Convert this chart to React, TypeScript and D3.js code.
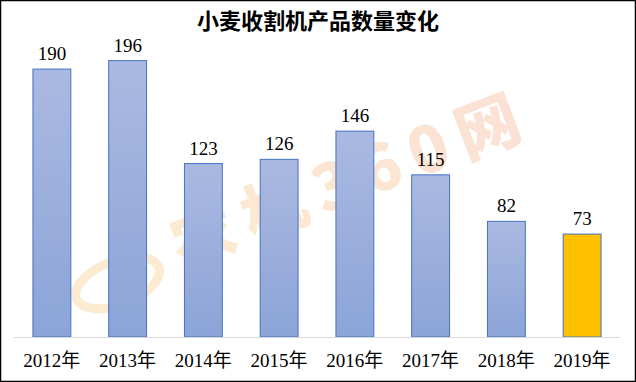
import React from "react";
import * as d3 from "d3";

const categories = ["2012年", "2013年", "2014年", "2015年", "2016年", "2017年", "2018年", "2019年"];
const values = [190, 196, 123, 126, 146, 115, 82, 73];
const highlight = [false, false, false, false, false, false, false, true];
const title = "小麦收割机产品数量变化";
const watermark = "农机360网";

const W = 636;
const H = 382;

export default function App() {
  const x = d3.scaleBand<string>().domain(categories).range([14, 620]).paddingInner(0.5).paddingOuter(0.25);
  const y = d3.scaleLinear().domain([0, 200]).range([337, 55]);
  const serif = "'Liberation Serif', 'Noto Sans CJK SC', serif";
  return (
    <svg width={W} height={H} style={{ position: "fixed", left: 0, top: 0, background: "#fff" }}>
      <defs>
        <linearGradient id="barGrad" x1="0" y1="0" x2="0" y2="1">
          <stop offset="0%" stopColor="#AAB9E1" />
          <stop offset="100%" stopColor="#8CA4D8" />
        </linearGradient>
        <linearGradient id="wmGrad" x1="0" y1="0" x2="1" y2="0">
          <stop offset="0%" stopColor="#F6B24A" />
          <stop offset="100%" stopColor="#F08A5A" />
        </linearGradient>
      </defs>
      <rect x={0.5} y={0.5} width={W - 1} height={H - 1} fill="#fff" stroke="#000" strokeWidth={1.5} />
      <text x={318} y={29} textAnchor="middle" fontFamily="'Noto Sans CJK SC', sans-serif" fontWeight="bold" fontSize={22} fill="#000">
        {title}
      </text>
      <g opacity={0.25} transform="translate(300,200) rotate(-21)">
        <ellipse cx={-200} cy={12} rx={44} ry={22} fill="none" stroke="#F6B24A" strokeWidth={9} />
        <text x={55} y={22} textAnchor="middle" fontFamily="'Noto Sans CJK SC', sans-serif" fontWeight="900" fontSize={64} letterSpacing={12} fill="url(#wmGrad)">
          {watermark}
        </text>
      </g>
      {categories.map((c, i) => (
        <g key={c}>
          <rect
            x={x(c)!}
            y={y(values[i])}
            width={x.bandwidth()}
            height={y(0) - y(values[i])}
            fill={highlight[i] ? "#FFC000" : "url(#barGrad)"}
            stroke="#4472C4"
            strokeWidth={1}
          />
          <text x={x(c)! + x.bandwidth() / 2} y={y(values[i]) - 9} textAnchor="middle" fontFamily={serif} fontSize={19} fill="#000">
            {values[i]}
          </text>
          <text x={x(c)! + x.bandwidth() / 2} y={367} textAnchor="middle" fontFamily={serif} fontSize={19} fill="#000">
            {c}
          </text>
        </g>
      ))}
      <line x1={14} x2={620} y1={337.5} y2={337.5} stroke="#D9D9D9" strokeWidth={1} />
    </svg>
  );
}
